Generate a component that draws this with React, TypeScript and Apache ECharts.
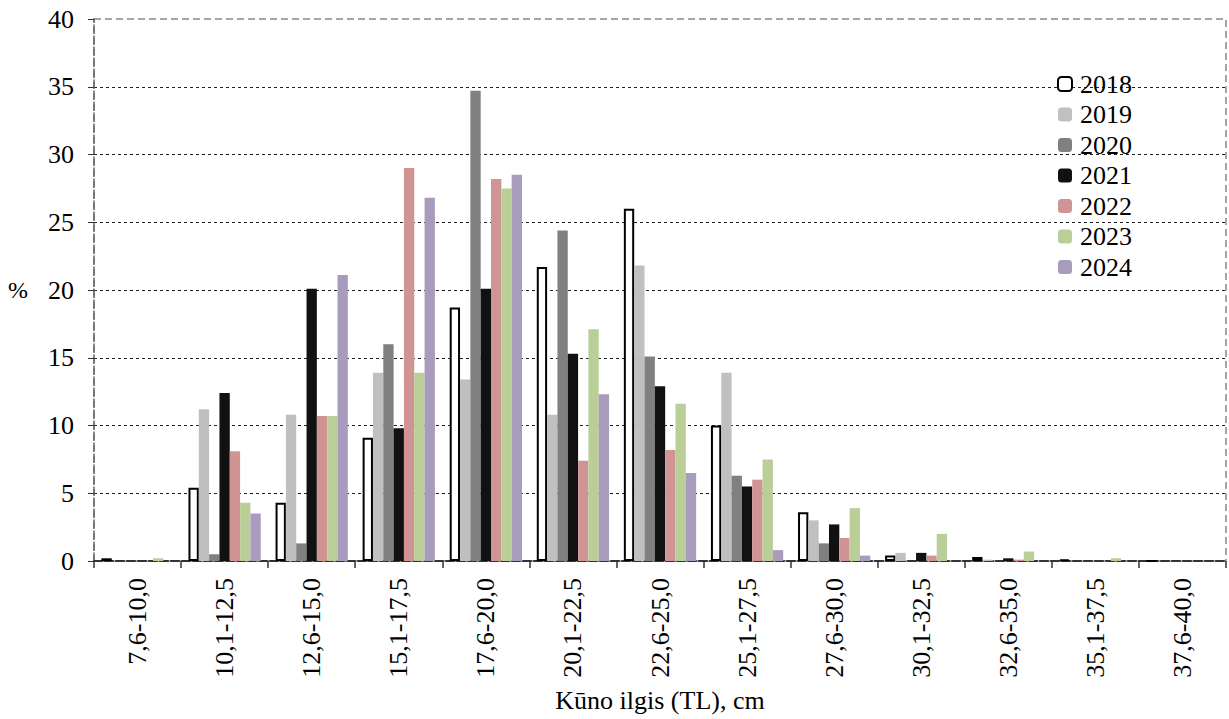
import React, { useEffect, useRef } from "react";
import * as echarts from "echarts";

const categories = [
  "7,6-10,0", "10,1-12,5", "12,6-15,0", "15,1-17,5", "17,6-20,0", "20,1-22,5",
  "22,6-25,0", "25,1-27,5", "27,6-30,0", "30,1-32,5", "32,6-35,0", "35,1-37,5", "37,6-40,0",
];
const years = ["2018", "2019", "2020", "2021", "2022", "2023", "2024"];
const v2018 = [0.2, 5.4, 4.3, 9.1, 18.7, 21.7, 26.0, 10.0, 3.6, 0.4, 0.3, 0.1, 0];
const v2019 = [0, 11.2, 10.8, 13.9, 13.4, 10.8, 21.8, 13.9, 3.0, 0.6, 0.1, 0, 0];
const v2020 = [0, 0.5, 1.3, 16.0, 34.7, 24.4, 15.1, 6.3, 1.3, 0, 0, 0, 0];
const v2021 = [0, 12.4, 20.1, 9.8, 20.1, 15.3, 12.9, 5.5, 2.7, 0.6, 0.2, 0, 0];
const v2022 = [0, 8.1, 10.7, 29.0, 28.2, 7.4, 8.2, 6.0, 1.7, 0.4, 0.1, 0, 0];
const v2023 = [0.2, 4.3, 10.7, 13.9, 27.5, 17.1, 11.6, 7.5, 3.9, 2.0, 0.7, 0.2, 0];
const v2024 = [0, 3.5, 21.1, 26.8, 28.5, 12.3, 6.5, 0.8, 0.4, 0, 0, 0, 0];
const seriesValues = [v2018, v2019, v2020, v2021, v2022, v2023, v2024];
const colors = ["#ffffff", "#c0c0c0", "#808080", "#111111", "#d19494", "#bacf97", "#a99bbe"];
const yTicks = [0, 5, 10, 15, 20, 25, 30, 35, 40];

const FONT = "Liberation Serif";

export default function App() {
  const ref = useRef<HTMLDivElement>(null);
  useEffect(() => {
    if (!ref.current) return;
    const chart = echarts.init(ref.current, undefined, { renderer: "svg" });
    const splitColors = yTicks.map((t, i) => (i === 0 || i === yTicks.length - 1 ? "rgba(0,0,0,0)" : "#222"));
    chart.setOption({
      animation: false,
      backgroundColor: "#fff",
      textStyle: { fontFamily: FONT },
      grid: {
        left: 94, top: 19, right: 3, bottom: 158,
        outerBoundsMode: "none",
        containLabel: false,
        show: true, borderColor: "#888", borderWidth: 1.5, borderType: [7, 4],
      },
      legend: {
        orient: "vertical",
        left: 1052,
        top: 66,
        itemWidth: 14,
        itemHeight: 14,
        itemGap: 4.5,
        textStyle: { fontFamily: FONT, fontSize: 26, color: "#000", lineHeight: 26, padding: [0, 0, 0, 3] },
        data: years,
      },
      xAxis: {
        type: "category",
        data: categories,
        name: "Kūno ilgis (TL), cm",
        nameLocation: "middle",
        nameGap: 126,
        nameTextStyle: { fontFamily: FONT, fontSize: 26, color: "#000" },
        axisLine: { lineStyle: { color: "#333", width: 2, type: [8, 3] } },
        axisTick: { show: true, length: 7, lineStyle: { color: "#333", width: 1.5 } },
        axisLabel: { rotate: 90, margin: 17, fontFamily: FONT, fontSize: 26, color: "#000" },
      },
      yAxis: {
        type: "value",
        min: 0,
        max: 40,
        interval: 5,
        name: "%",
        nameLocation: "middle",
        nameRotate: 0,
        nameGap: 66,
        nameTextStyle: { fontFamily: FONT, fontSize: 24, color: "#000" },
        axisLine: { show: true, lineStyle: { color: "#666", width: 1.5, type: [8, 3] } },
        axisTick: { show: true, inside: false, length: 6, lineStyle: { color: "#333" } },
        axisLabel: { margin: 20, fontFamily: FONT, fontSize: 26, color: "#000" },
        splitLine: { show: true, lineStyle: { color: splitColors, type: [3, 3], width: 1 } },
      },
      series: years.map((y, i) => ({
        name: y,
        type: "bar",
        data: seriesValues[i],
        barGap: "0%",
        barCategoryGap: "17%",
        itemStyle: i === 0
          ? { color: colors[i], borderColor: "#000", borderWidth: 2 }
          : { color: colors[i] },
      })),
    });
    return () => chart.dispose();
  }, []);
  return (
    <div
      ref={ref}
      style={{ position: "fixed", left: 0, top: 0, width: 1229, height: 719 }}
    />
  );
}
